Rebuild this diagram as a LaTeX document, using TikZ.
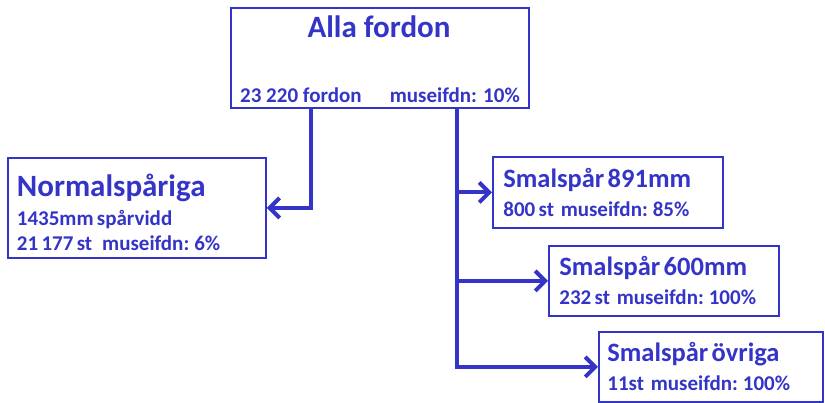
\documentclass[tikz,border=0pt]{standalone}
\usepackage{fontspec}
\setmainfont{Carlito}
\usetikzlibrary{arrows.meta, positioning}
\definecolor{treeblue}{RGB}{52,52,200}

\begin{document}
\begin{tikzpicture}[x=1pt, y=-1pt,
  box/.style={rectangle, draw=treeblue, line width=1.8pt, fill=white,
              anchor=north west, inner sep=0pt, align=left,
              text=treeblue, font=\bfseries},
  conn/.style={draw=treeblue, line width=4pt,
               -{Straight Barb[length=10pt, width=20pt]}},
  big/.style={font=\fontsize{31}{36}\selectfont\bfseries, text=treeblue},
  small/.style={font=\fontsize{21}{24}\selectfont\bfseries, text=treeblue}
]
\useasboundingbox (0,0) rectangle (825,402);

% top box
\node[box, minimum width=298pt, minimum height=100pt] (all) at (230,7) {};
\node[big, anchor=base] (alltitle) at (379,37) {Alla fordon};
\node[small, anchor=base west, inner sep=0pt] (allnum) at (240,102) {23 220 fordon};
\node[small, anchor=base east, inner sep=0pt] (allmus) at (520,102) {museifdn: 10\%};

% normal gauge
\node[box, minimum width=258pt, minimum height=100pt, text width=250pt]
  (normal) at (7,157) {\hspace*{5pt}\parbox{240pt}{\vspace*{8pt}\fontsize{31}{36}\selectfont Normalspåriga\\[4pt]
  \fontsize{21}{25}\selectfont 1435mm spårvidd\\
  21 177 st \ \ museifdn: 6\%}};

% narrow gauges
\node[box, minimum width=230pt, minimum height=71pt, text width=225pt] (s891) at (492,156)
  {\hspace*{8pt}\parbox{215pt}{\fontsize{26.5}{30}\selectfont Smalspår 891mm\\[5pt]
  \fontsize{21}{24}\selectfont 800 st \ museifdn: 85\%}};
\node[box, minimum width=230pt, minimum height=70pt, text width=225pt] (s600) at (548,245)
  {\hspace*{8pt}\parbox{215pt}{\fontsize{26.5}{30}\selectfont Smalspår 600mm\\[5pt]
  \fontsize{21}{24}\selectfont 232 st \ museifdn: 100\%}};
\node[box, minimum width=224pt, minimum height=70pt, text width=219pt] (sovr) at (598,331)
  {\hspace*{6pt}\parbox{210pt}{\fontsize{26.5}{30}\selectfont Smalspår övriga\\[5pt]
  \fontsize{21}{24}\selectfont 11st \ museifdn: 100\%}};

% connectors
\draw[conn] ([xshift=-69pt]all.south) |- (normal.east);
\draw[conn] ([xshift=77pt]all.south) |- (s891.west);
\draw[conn] ([xshift=77pt]all.south) |- (s600.west);
\draw[conn] ([xshift=77pt]all.south) |- (sovr.west);
\end{tikzpicture}
\end{document}
